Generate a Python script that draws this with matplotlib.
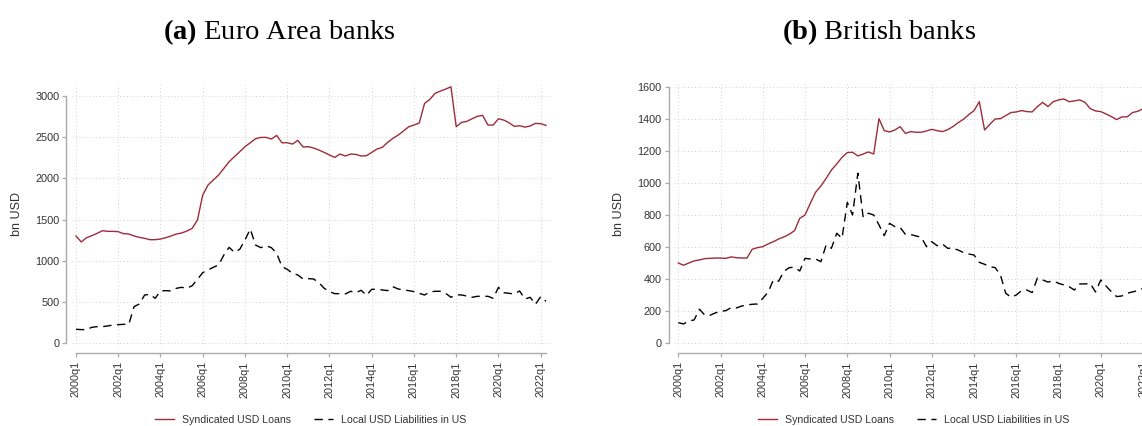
import matplotlib
matplotlib.use('Agg')
import matplotlib.pyplot as plt
import numpy as np

#quarters 2000q1 - 2022q2
quarters = [str(y) + 'q' + str(q) for y in range(2000, 2023) for q in range(1, 5)][:90]

#Euro Area banks (bn USD)
ea_syndicated = [1302, 1229, 1281, 1306, 1334, 1366, 1358, 1358, 1354, 1330,
                 1326, 1302, 1285, 1273, 1257, 1257, 1265, 1281, 1302, 1326,
                 1338, 1362, 1394, 1496, 1799, 1920, 1981, 2041, 2122, 2203,
                 2264, 2324, 2385, 2433, 2482, 2498, 2498, 2478, 2522, 2433,
                 2433, 2417, 2462, 2381, 2385, 2369, 2344, 2316, 2284, 2255,
                 2296, 2272, 2296, 2292, 2272, 2276, 2316, 2357, 2377, 2437,
                 2486, 2526, 2575, 2627, 2648, 2672, 2910, 2959, 3032, 3060,
                 3084, 3112, 2627, 2680, 2692, 2724, 2753, 2765, 2648, 2648,
                 2724, 2708, 2676, 2631, 2640, 2623, 2636, 2668, 2664, 2644]
ea_local = [170, 166, 166, 194, 202, 202, 210, 222, 226, 230,
            230, 445, 477, 586, 594, 546, 635, 639, 635, 667,
            679, 667, 699, 776, 857, 889, 922, 950, 1071, 1164,
            1103, 1140, 1253, 1386, 1192, 1160, 1184, 1160, 1091, 930,
            897, 849, 829, 780, 784, 780, 736, 667, 627, 602,
            602, 598, 631, 614, 643, 582, 655, 655, 647, 639,
            687, 659, 647, 639, 627, 606, 586, 622, 631, 631,
            606, 558, 590, 586, 574, 558, 570, 570, 570, 546,
            679, 614, 606, 598, 635, 537, 558, 473, 566, 509]

#British banks (bn USD)
uk_syndicated = [502, 488, 502, 515, 521, 529, 531, 533, 533, 531,
                 540, 535, 533, 533, 588, 598, 604, 621, 635, 652,
                 665, 681, 704, 781, 802, 875, 944, 983, 1031, 1083,
                 1121, 1162, 1192, 1194, 1171, 1183, 1196, 1183, 1404, 1329,
                 1321, 1333, 1354, 1312, 1323, 1319, 1319, 1327, 1337, 1329,
                 1323, 1335, 1354, 1379, 1400, 1429, 1454, 1510, 1333, 1369,
                 1402, 1404, 1423, 1442, 1446, 1454, 1448, 1446, 1479, 1506,
                 1479, 1510, 1521, 1527, 1510, 1515, 1521, 1506, 1467, 1452,
                 1448, 1433, 1417, 1398, 1415, 1415, 1442, 1450, 1466, 1472]
uk_local = [129, 121, 140, 146, 213, 177, 175, 190, 200, 204,
            223, 221, 233, 240, 244, 246, 281, 319, 396, 388,
            450, 473, 475, 452, 531, 527, 527, 510, 615, 594,
            688, 656, 881, 802, 1063, 788, 813, 802, 740, 673,
            750, 729, 725, 681, 680, 671, 663, 604, 635, 610,
            621, 594, 594, 583, 567, 558, 552, 506, 494, 479,
            473, 427, 313, 288, 302, 329, 333, 317, 408, 396,
            383, 390, 375, 365, 354, 333, 371, 371, 375, 321,
            396, 358, 323, 292, 296, 313, 321, 329, 344, 340]

#colors
red = '#9e2c3a'
axcol = '#aaaaaa'
txtcol = '#333333'

plt.rcParams['font.family'] = ['Liberation Sans', 'DejaVu Sans']
#bold (a)/(b) in serif
plt.rcParams['mathtext.fontset'] = 'custom'
plt.rcParams['mathtext.bf'] = 'Liberation Serif:bold'
plt.rcParams['mathtext.rm'] = 'Liberation Serif'

fig = plt.figure(figsize=(11.42, 4.26), dpi=100)
W, H = 1142.0, 426.0

def make_panel(left_px, syn, loc, ymax, ystep, ylim):
    ax = fig.add_axes([left_px / W, (H - 347) / H, 478 / W, 265 / H])
    x = np.arange(len(syn))
    ax.plot(x, syn, color=red, lw=1.0, label='Syndicated USD Loans')
    ax.plot(x, loc, color='black', lw=1.0, dashes=(6, 4), label='Local USD Liabilities in US')
    n = len(syn)
    ax.set_xlim(-4 / 5.285, n - 1 + 4 / 5.285)
    ax.set_ylim(ylim)
    xt = np.arange(0, n, 8)
    ax.set_xticks(xt)
    ax.set_xticklabels([quarters[i] for i in xt])
    yt = np.arange(0, ymax + 1, ystep)
    ax.set_yticks(yt)
    ax.set_yticklabels([str(v) for v in yt])
    ax.grid(True, color='#d2d2d2', linestyle=(0, (1, 2.5)), lw=0.7)
    ax.set_axisbelow(True)
    for s in ['top', 'right']:
        ax.spines[s].set_visible(False)
    ax.spines['left'].set_position(('outward', 4))
    ax.spines['bottom'].set_position(('outward', 4))
    ax.spines['left'].set_bounds(0, ymax)
    ax.spines['bottom'].set_bounds(0, n - 1)
    for s in ['left', 'bottom']:
        ax.spines[s].set_color(axcol)
        ax.spines[s].set_linewidth(1.0)
    ax.tick_params(axis='both', colors=axcol, labelcolor=txtcol, labelsize=7.8,
                   length=3.2, width=0.9, pad=2)
    ax.tick_params(axis='x', pad=3, labelrotation=90)
    ax.set_ylabel('bn USD', fontsize=9, color=txtcol)
    ax.yaxis.set_label_coords(-0.1025, 0.5)
    ax.legend(loc='center', bbox_to_anchor=(0.5, -0.275), ncol=2, frameon=False,
              fontsize=7.6, handlelength=1.8, handletextpad=0.75, columnspacing=2.2)
    for t in ax.get_legend().get_texts():
        t.set_color(txtcol)
    return ax

ax1 = make_panel(72, ea_syndicated, ea_local, 3000, 500, (-45, 3170))
ax2 = make_panel(674.3, uk_syndicated, uk_local, 1600, 200, (-23, 1633))

#panel titles
tfont = ['Liberation Serif', 'DejaVu Serif']
fig.text(279 / W, 1 - 32 / H, r'$\mathbf{(a)}$' + ' Euro Area banks', ha='center', va='center',
         fontsize=20.5, family=tfont)
fig.text(879 / W, 1 - 32 / H, r'$\mathbf{(b)}$' + ' British banks', ha='center', va='center',
         fontsize=20.5, family=tfont)

fig.savefig('out.png', dpi=100)
